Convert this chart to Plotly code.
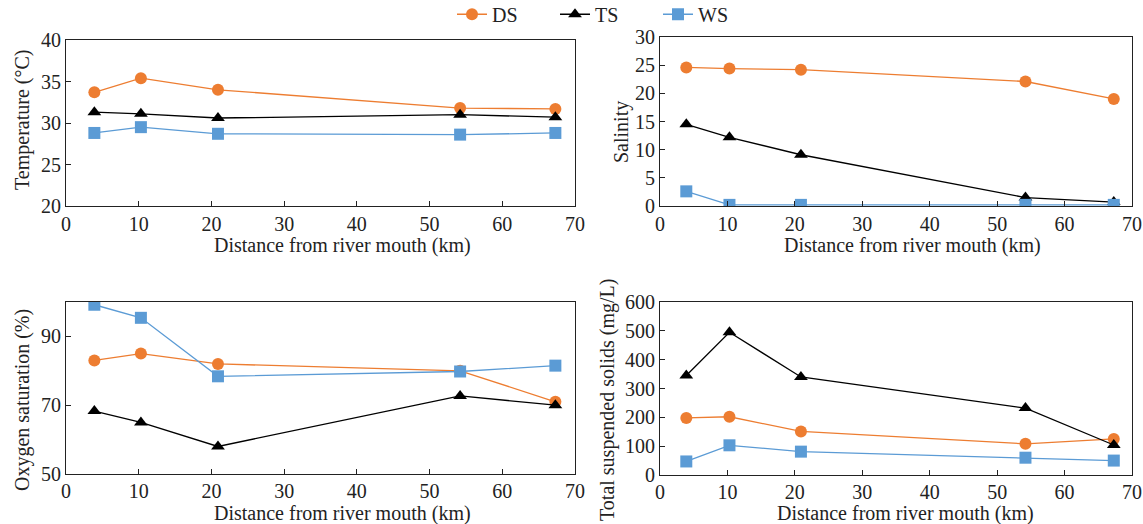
import plotly.graph_objects as go

distance = [3.9, 10.3, 20.9, 54.2, 67.3]

temp_ds = [33.7, 35.4, 34.0, 31.8, 31.7]
temp_ts = [31.3, 31.1, 30.6, 31.0, 30.7]
temp_ws = [28.8, 29.5, 28.7, 28.6, 28.8]

sal_ds = [24.6, 24.4, 24.2, 22.1, 19.0]
sal_ts = [14.5, 12.2, 9.1, 1.5, 0.7]
sal_ws = [2.6, 0.2, 0.2, 0.2, 0.2]

oxy_ds = [83.0, 85.0, 82.0, 80.0, 71.0]
oxy_ts = [68.3, 65.0, 58.0, 72.7, 70.0]
oxy_ws = [99.2, 95.4, 78.4, 79.8, 81.5]

tss_ds = [198, 202, 151, 108, 125]
tss_ts = [345, 495, 340, 232, 104]
tss_ws = [47, 103, 81, 60, 50]

series_names = ["DS", "TS", "WS"]
x_title = "Distance from river mouth (km)"
y_titles = ["Temperature (°C)", "Salinity", "Oxygen saturation (%)", "Total suspended solids (mg/L)"]

colors = {"DS": "#ED7D31", "TS": "#000000", "WS": "#5B9BD5"}
symbols = {"DS": "circle", "TS": "triangle-up", "WS": "square"}

panels = [
    ("x", "y", [temp_ds, temp_ts, temp_ws]),
    ("x2", "y2", [sal_ds, sal_ts, sal_ws]),
    ("x3", "y3", [oxy_ds, oxy_ts, oxy_ws]),
    ("x4", "y4", [tss_ds, tss_ts, tss_ws]),
]

FONT = "Liberation Serif, Times New Roman, serif"
FS = 20
TXT = "#222"

fig = go.Figure()
for i, (xa, ya, vals) in enumerate(panels):
    for name, v in zip(series_names, vals):
        fig.add_trace(go.Scatter(
            x=distance, y=v, xaxis=xa, yaxis=ya, name=name,
            mode="lines+markers", showlegend=(i == 0),
            line=dict(color=colors[name], width=1.3),
            marker=dict(symbol=symbols[name], size=12, color=colors[name]),
        ))

W, H = 1143, 524
def px_x(a, b):
    return [a / W, b / W]
def px_y(top, bottom):
    return [1 - bottom / H, 1 - top / H]

axis_common = dict(showline=True, linecolor=TXT, linewidth=1.2, mirror=True,
                   ticks="inside", ticklen=5, tickcolor=TXT, showgrid=False,
                   zeroline=False, automargin=False,
                   tickfont=dict(family=FONT, size=FS, color=TXT))

left = px_x(66, 575)
right = px_x(660, 1132)

# title positions (pixel centres)
xt_pos = [(342, 245), (912, 245), (342, 513), (905, 513)]
yt_pos = [(23, 120), (621, 132), (22, 400), (607, 400)]

annotations = []
for (cx, cy) in xt_pos:
    annotations.append(dict(text=x_title, x=cx / W, y=1 - cy / H, xref="paper", yref="paper",
                            xanchor="center", yanchor="middle", showarrow=False,
                            font=dict(family=FONT, size=FS, color=TXT)))
for t, (cx, cy) in zip(y_titles, yt_pos):
    annotations.append(dict(text=t, x=cx / W, y=1 - cy / H, xref="paper", yref="paper",
                            xanchor="center", yanchor="middle", showarrow=False, textangle=-90,
                            font=dict(family=FONT, size=FS, color=TXT)))

fig.update_layout(
    width=W, height=H, margin=dict(l=0, r=0, t=0, b=0, autoexpand=False),
    paper_bgcolor="white", plot_bgcolor="white",
    font=dict(family=FONT, color=TXT),
    legend=dict(orientation="h", x=452 / W, xanchor="left", y=1.01, yanchor="top",
                bgcolor="rgba(0,0,0,0)",
                font=dict(family=FONT, size=FS, color=TXT),
                entrywidth=58, entrywidthmode="pixels"),
    annotations=annotations,
    xaxis=dict(domain=left, range=[0, 70], dtick=10, anchor="y", **axis_common),
    yaxis=dict(domain=px_y(40, 206), range=[20, 40], dtick=5, anchor="x", **axis_common),
    xaxis2=dict(domain=right, range=[0, 70], dtick=10, anchor="y2", **axis_common),
    yaxis2=dict(domain=px_y(37, 206), range=[0, 30], dtick=5, anchor="x2", **axis_common),
    xaxis3=dict(domain=left, range=[0, 70], dtick=10, anchor="y3", ticklabelstandoff=-1, **axis_common),
    yaxis3=dict(domain=px_y(302, 474), range=[50, 100], tickvals=[50, 70, 90], anchor="x3", **axis_common),
    xaxis4=dict(domain=right, range=[0, 70], dtick=10, anchor="y4", ticklabelstandoff=-1, **axis_common),
    yaxis4=dict(domain=px_y(302, 475), range=[0, 600], dtick=100, anchor="x4", **axis_common),
)

fig.write_html("out.html")
